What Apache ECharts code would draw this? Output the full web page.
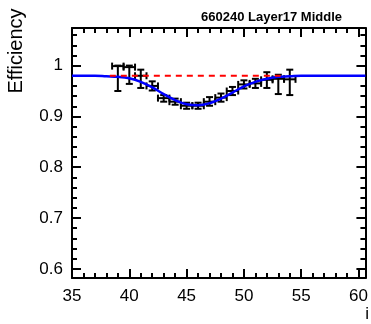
<!DOCTYPE html>
<html><head><meta charset="utf-8">
<script src="https://cdn.jsdelivr.net/npm/echarts@6/dist/echarts.min.js"></script>
<style>html,body{margin:0;padding:0;background:#fff}#c{width:371px;height:324px}</style>
</head><body><div id="c"></div>
<script>
// ---- data ----
const binX    = [39, 40, 41, 42, 43, 44, 45, 46, 47, 48, 49, 50, 51, 52, 53, 54];
const effY    = [0.999, 0.997, 0.980, 0.960, 0.936, 0.929, 0.921, 0.921, 0.929, 0.937, 0.950, 0.963, 0.965, 0.972, 0.974, 0.973];
const effLow  = [0.950, 0.964, 0.956, 0.951, 0.929, 0.923, 0.915, 0.915, 0.921, 0.929, 0.942, 0.955, 0.956, 0.956, 0.944, 0.942];
const effHigh = [1.000, 1.000, 0.992, 0.969, 0.942, 0.935, 0.927, 0.927, 0.938, 0.945, 0.958, 0.971, 0.974, 0.987, 0.982, 0.992];
const binHalfWidth = 0.5;

const fitX = [35, 36, 37, 38, 39, 40, 41, 42, 43, 44, 45, 46, 47, 48, 49, 50, 51, 52, 53, 54, 55, 56, 57, 58, 59, 60, 60.6];
const fitY = [0.980, 0.980, 0.980, 0.979, 0.978, 0.975, 0.968, 0.957, 0.944, 0.932, 0.924, 0.922, 0.926, 0.935, 0.947, 0.959, 0.968, 0.974, 0.978, 0.979, 0.980, 0.980, 0.980, 0.980, 0.980, 0.980, 0.980];

const refX = [38.3, 53.2];
const refY = [0.98, 0.98];

const yMajorTicks = [0.6, 0.7, 0.8, 0.9, 1.0];
const xRange = [35, 60.6];
const yRange = [0.582, 1.074];
const titleText = '660240 Layer17 Middle';
const yName = 'Efficiency';
const xName = 'i';

// ---- chart ----
const yMinor = [];
for (let v = 0.58; v <= 1.0741; v += 0.02) yMinor.push(Math.round(v * 100) / 100);

const chart = echarts.init(document.getElementById('c'), null, {renderer: 'canvas'});
const FONT = 'Liberation Sans, Arial, Helvetica, sans-serif';
const lineStyle = {color: '#000', width: 2};

function xAx(pos, labels) {
  return {
    type: 'value', position: pos, min: xRange[0], max: xRange[1], interval: 5,
    axisLine: {show: true, onZero: false, lineStyle},
    axisTick: {show: true, inside: true, length: 9, lineStyle: {color: '#000', width: 2}},
    minorTick: {show: true, splitNumber: 5, length: 5, lineStyle: {color: '#000', width: 2}},
    axisLabel: {show: labels, color: '#000', fontSize: 17, fontFamily: FONT, margin: 10,
      formatter: v => (v > 60.01 ? '' : String(v)), showMaxLabel: false},
    splitLine: {show: false}
  };
}
function yAx(pos, values, len, labels, line) {
  return {
    type: 'value', position: pos, min: yRange[0], max: yRange[1], offset: 0,
    axisLine: {show: line, onZero: false, lineStyle},
    axisTick: {show: true, inside: true, length: len, customValues: values, lineStyle: {color: '#000', width: 2}},
    axisLabel: {show: labels, customValues: values, color: '#000', fontSize: 17, fontFamily: FONT, margin: 9,
      formatter: v => String(Math.round(v * 10) / 10)},
    splitLine: {show: false}
  };
}

const errData = binX.map((x, i) => [x, effY[i], effLow[i], effHigh[i]]);

chart.setOption({
  animation: false,
  backgroundColor: '#fff',
  grid: {left: 72, right: 4, top: 28, bottom: 46, containLabel: false},
  title: {text: titleText, right: 24, top: 6,
    textStyle: {fontSize: 13, fontWeight: 'bold', color: '#000', fontFamily: FONT}},
  graphic: [
    {type: 'text', x: 16, y: 51, rotation: Math.PI / 2,
      style: {text: yName, fill: '#000', font: '20px ' + FONT, align: 'center', verticalAlign: 'middle'}},
    {type: 'text', right: 2, top: 306,
      style: {text: xName, fill: '#000', font: '17px ' + FONT}}
  ],
  xAxis: [xAx('bottom', true), xAx('top', false)],
  yAxis: [
    yAx('left', yMajorTicks, 9, true, true),
    yAx('left', yMinor, 5, false, false),
    yAx('right', yMajorTicks, 9, false, true),
    yAx('right', yMinor, 5, false, false)
  ],
  series: [
    {type: 'custom', data: errData, z: 3,
      renderItem: (params, api) => {
        const x = api.value(0), y = api.value(1), lo = api.value(2), hi = api.value(3);
        const pC = api.coord([x, y]);
        const pL = api.coord([x - binHalfWidth, y]);
        const pR = api.coord([x + binHalfWidth, y]);
        const pLo = api.coord([x, lo]);
        const pHi = api.coord([x, hi]);
        const cap = 3.5;
        const st = {stroke: '#000', lineWidth: 2};
        const seg = (x1, y1, x2, y2) => ({type: 'line', shape: {x1, y1, x2, y2}, style: st});
        return {type: 'group', children: [
          seg(pL[0], pC[1], pR[0], pC[1]),
          seg(pC[0], pLo[1], pC[0], pHi[1]),
          seg(pC[0] - cap, pLo[1], pC[0] + cap, pLo[1]),
          seg(pC[0] - cap, pHi[1], pC[0] + cap, pHi[1]),
          seg(pL[0], pC[1] - cap, pL[0], pC[1] + cap),
          seg(pR[0], pC[1] - cap, pR[0], pC[1] + cap)
        ]};
      }},
    {type: 'line', data: fitX.map((x, i) => [x, fitY[i]]), showSymbol: false, symbol: 'none', smooth: 0.4,
      lineStyle: {color: '#0000ff', width: 2.5}, z: 4},
    {type: 'line', data: refX.map((x, i) => [x, refY[i]]), showSymbol: false, symbol: 'none',
      lineStyle: {color: '#ff0000', width: 2, type: [6, 5]}, z: 5}
  ]
});
</script>
</body></html>
